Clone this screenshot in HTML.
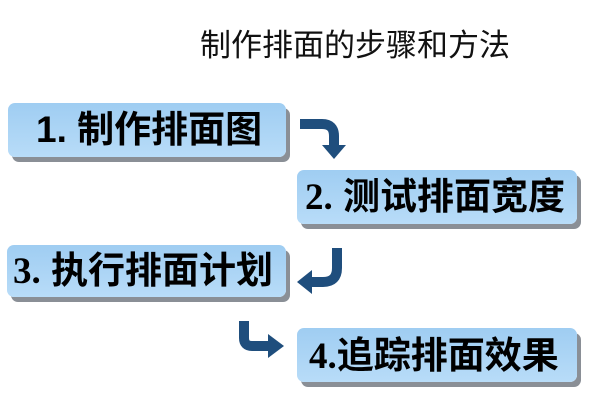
<!DOCTYPE html>
<html><head><meta charset="utf-8"><style>
body{margin:0;width:600px;height:410px;background:#fff;position:relative;overflow:hidden;font-family:"Liberation Sans","Noto Sans CJK SC",sans-serif}
.t{position:absolute;left:200px;top:20px;font-size:31px;color:#111;white-space:nowrap}
.b{position:absolute;border-radius:7px;background:linear-gradient(#9fcdf2,#b8dcf8);box-shadow:4px 5px 0 #8a8f96;font-weight:bold;font-size:37px;color:#000;line-height:1;box-sizing:border-box;white-space:nowrap}
.s{font-family:"Liberation Serif","Noto Sans CJK SC",serif}
svg{position:absolute;left:0;top:0}
</style></head><body>
<div class="t">制作排面的步骤和方法</div>
<div class="b" style="left:8px;top:103px;width:278px;height:54px;padding:8px 0 0 28px">1. 制作排面图</div>
<div class="b" style="left:297px;top:170px;width:280px;height:54px;padding:8px 0 0 8px"><span class="s">2.</span> 测试排面宽度</div>
<div class="b" style="left:7px;top:245px;width:279px;height:52px;padding:7px 0 0 6px"><span class="s">3.</span> 执行排面计划</div>
<div class="b" style="left:297px;top:328px;width:280px;height:54px;padding:9px 0 0 12px"><span class="s">4.</span>追踪排面效果</div>
<svg width="600" height="410">
<g fill="none" stroke="#1f4e7d" stroke-width="10">
<path d="M300 124 H322 Q334 124 334 136 V146"/>
<path d="M337 248 V268 Q337 282 323 282 H310"/>
<path d="M244 321 V338 Q244 346 252 346 H270"/>
</g>
<g fill="#1f4e7d">
<polygon points="322,145 346,145 334,159"/>
<polygon points="312,270 312,294 297,282"/>
<polygon points="268,334 268,358 284,346"/>
</g>
</svg>
</body></html>
